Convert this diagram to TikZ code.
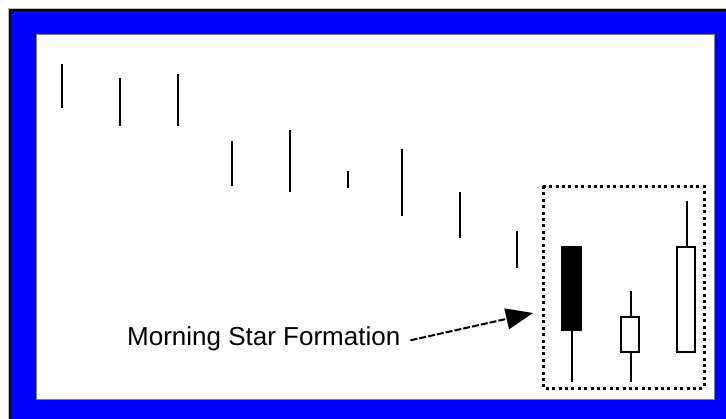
\documentclass[tikz,border=0pt]{standalone}
\usepackage{fontspec}
\setmainfont{Liberation Sans}
\usetikzlibrary{arrows.meta}

\tikzset{wick/.style={draw,black,line width=2pt},
candle/.style={draw,black,line width=2pt},
zone/.style={draw,black,line width=3pt,dash pattern=on 3pt off 3.4pt}}

\begin{document}
\begin{tikzpicture}[x=1pt,y=-1pt]
\useasboundingbox (0,0) rectangle (726,418);
% frame
\draw[gray!50,line width=1pt] (8,8) rectangle (740,430);
\filldraw[fill=blue,draw=black,line width=1.5pt] (10,10) rectangle (740,430);
\filldraw[fill=white,draw=gray,line width=1pt] (36,34) rectangle (714,399);
% falling days
\path[wick] (62,64)--(62,108);
\path[wick] (120,78)--(120,126);
\path[wick] (178,74)--(178,126);
\path[wick] (232,141)--(232,186);
\path[wick] (290,130)--(290,192);
\path[wick] (348,171)--(348,188);
\path[wick] (402,149)--(402,216);
\path[wick] (460,192)--(460,238);
\path[wick] (517,231)--(517,268);
% morning star
\path[wick] (572,330)--(572,382);
\filldraw[candle,fill=black] (562,247) rectangle (581,330);
\path[wick] (631,291)--(631,317);
\path[wick] (631,352)--(631,382);
\filldraw[candle,fill=white] (621,317) rectangle (639,352);
\path[wick] (687,201)--(687,247);
\filldraw[candle,fill=white] (677,247) rectangle (695,352);
\path[zone] (543,186) rectangle (704,388);
% label
\node[anchor=base west,inner sep=0pt,font=\fontsize{26}{30}\selectfont] (label) at (127,345) {Morning Star Formation};
\coordinate (tip) at (533,313);
\draw[line width=2pt,dash pattern=on 7pt off 2pt,-{Triangle[length=27pt,width=21pt]}] ([xshift=10pt,yshift=-2pt]label.east)--(tip);
\end{tikzpicture}
\end{document}
